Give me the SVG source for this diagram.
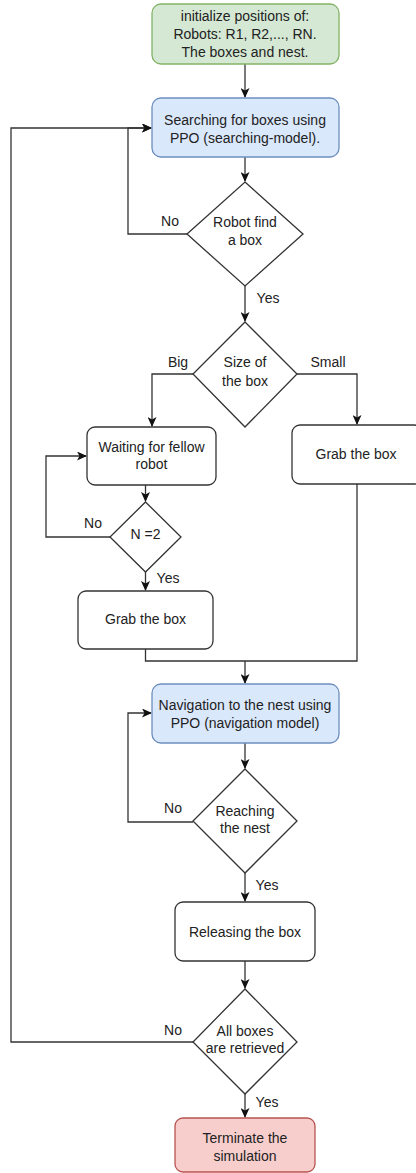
<svg xmlns="http://www.w3.org/2000/svg" width="416" height="1173" viewBox="0 0 416 1173">
<style>
.box{fill:#ffffff;stroke:#333333;stroke-width:1.3}
.green{fill:#d5e8d4;stroke:#82b366;stroke-width:1.3}
.blue{fill:#dae8fc;stroke:#6c8ebf;stroke-width:1.3}
.red{fill:#f8cecc;stroke:#b85450;stroke-width:1.3}
.dia{fill:#ffffff;stroke:#333333;stroke-width:1.3}
text{font-family:"Liberation Sans",Arial,sans-serif;font-size:14px;fill:#222222;text-anchor:middle}
.lbl{font-size:14px}
.c{fill:none;stroke:#333333;stroke-width:1.3}
.ca{fill:none;stroke:#333333;stroke-width:1.3;marker-end:url(#arr)}
</style>
<defs>
<marker id="arr" markerWidth="11" markerHeight="9" refX="9" refY="4.5" orient="auto" markerUnits="userSpaceOnUse">
<path d="M0,0 L10,4.5 L0,9 L2.5,4.5 z" fill="#111111"/>
</marker>
</defs>
<rect width="416" height="1173" fill="#ffffff"/>
<g id="connectors">
<path class="ca" d="M245,64 V97"/>
<path class="ca" d="M245,157 V181"/>
<path class="ca" d="M187,234 H128 V128 H151"/>
<path class="ca" d="M193,1042 H11 V128 H151"/>
<path class="ca" d="M245,286 V321"/>
<path class="ca" d="M193,374 H152 V426"/>
<path class="ca" d="M297,374 H357 V424"/>
<path class="ca" d="M145.5,485 V501"/>
<path class="ca" d="M110,537 H46 V456 H86"/>
<path class="ca" d="M145.5,572 V590"/>
<path class="c" d="M145.5,649 V661 H357 V484"/>
<path class="ca" d="M245,661 V683"/>
<path class="ca" d="M245,743 V768"/>
<path class="ca" d="M193,822 H128 V713 H151"/>
<path class="ca" d="M245,873 V901"/>
<path class="ca" d="M245,961 V988"/>
<path class="ca" d="M245,1094 V1117"/>
<text class="lbl" x="170" y="226">No</text>
<text class="lbl" x="268" y="303">Yes</text>
<text class="lbl" x="178" y="367">Big</text>
<text class="lbl" x="328" y="367">Small</text>
<text class="lbl" x="93" y="528">No</text>
<text class="lbl" x="168" y="583">Yes</text>
<text class="lbl" x="173" y="813">No</text>
<text class="lbl" x="267" y="890">Yes</text>
<text class="lbl" x="173" y="1035">No</text>
<text class="lbl" x="267" y="1107">Yes</text>
</g>
<g id="init">
<rect class="green" x="152" y="4" width="187" height="60" rx="9"/>
<text x="245" y="21">initialize positions of:</text>
<text x="245" y="39">Robots: R1, R2,..., RN.</text>
<text x="245" y="57">The boxes and nest.</text>
</g>
<g id="search">
<rect class="blue" x="152" y="98" width="187" height="59" rx="9"/>
<text x="245" y="125">Searching for boxes using</text>
<text x="245" y="143">PPO (searching-model).</text>
</g>
<g id="find">
<path class="dia" d="M245,182 L303,234 L245,286 L187,234 Z"/>
<text x="245" y="227">Robot find</text>
<text x="245" y="245">a box</text>
</g>
<g id="size">
<path class="dia" d="M245,322 L297,374 L245,427 L193,374 Z"/>
<text x="245" y="367">Size of</text>
<text x="245" y="386">the box</text>
</g>
<g id="waiting">
<rect class="box" x="87" y="427" width="129" height="58" rx="8"/>
<text x="151.5" y="452">Waiting for fellow</text>
<text x="151.5" y="469">robot</text>
</g>
<g id="grab-small">
<rect class="box" x="292" y="425" width="130" height="59" rx="8"/>
<text x="356" y="459">Grab the box</text>
</g>
<g id="n2">
<path class="dia" d="M145.5,502 L181,537 L145.5,572 L110,537 Z"/>
<text x="145.5" y="539">N =2</text>
</g>
<g id="grab-big">
<rect class="box" x="78" y="591" width="135" height="58" rx="8"/>
<text x="145.5" y="624">Grab the box</text>
</g>
<g id="navigate">
<rect class="blue" x="152" y="684" width="187" height="59" rx="9"/>
<text x="245" y="710">Navigation to the nest using</text>
<text x="245" y="728">PPO (navigation model)</text>
</g>
<g id="reaching">
<path class="dia" d="M245,769 L297,821 L245,873 L193,821 Z"/>
<text x="245" y="816">Reaching</text>
<text x="245" y="833">the nest</text>
</g>
<g id="release">
<rect class="box" x="175" y="902" width="140" height="59" rx="8"/>
<text x="245" y="937">Releasing the box</text>
</g>
<g id="allboxes">
<path class="dia" d="M245,989 L297,1042 L245,1094 L193,1042 Z"/>
<text x="245" y="1036">All boxes</text>
<text x="245" y="1053">are retrieved</text>
</g>
<g id="terminate">
<rect class="red" x="175" y="1118" width="140" height="54" rx="8"/>
<text x="245" y="1143">Terminate the</text>
<text x="245" y="1161">simulation</text>
</g>
</svg>
